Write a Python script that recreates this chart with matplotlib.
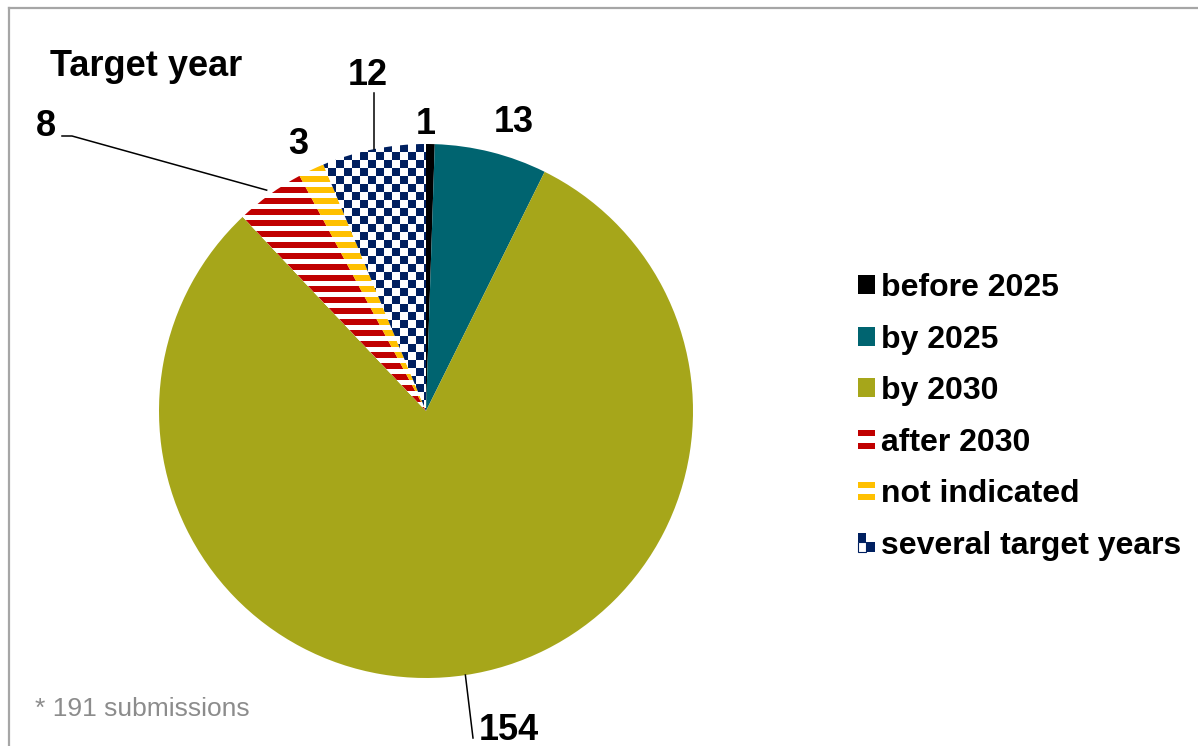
import numpy as np
import matplotlib
matplotlib.use('Agg')
import matplotlib.pyplot as plt
from matplotlib.patches import Rectangle
from matplotlib.lines import Line2D
from matplotlib.legend_handler import HandlerBase
from matplotlib.colors import to_rgb

# ---------------- data ----------------
categories = ['before 2025', 'by 2025', 'by 2030', 'after 2030',
              'not indicated', 'several target years']
counts = [1, 13, 154, 8, 3, 12]
value_labels = ['1', '13', '154', '8', '3', '12']
title = 'Target year'
footnote = '* 191 submissions'

# ---------------- style ----------------
colors = ['#000000', '#006470', '#A6A61A', '#C00000', '#FFC000', '#002060']
patterns = [None, None, None, 'stripes', 'stripes', 'checker']

W, H, DPI = 1198, 746, 100
CX, CY, R = 426, 411, 267  # pie centre / radius in pixels

plt.rcParams['font.family'] = ['Liberation Sans', 'DejaVu Sans']

fig = plt.figure(figsize=(W / DPI, H / DPI), dpi=DPI)
ax = fig.add_axes([0, 0, 1, 1])
xlim = (-CX / R, (W - CX) / R)
ylim = (-(H - CY) / R, CY / R)


def px(x, y):
    return ((x - CX) / R, (CY - y) / R)


face = [c if p is None else 'white' for c, p in zip(colors, patterns)]
wedges, _ = ax.pie(counts, colors=face, startangle=90, counterclock=False,
                   radius=1, wedgeprops=dict(linewidth=0))

# ---------- fill patterns clipped to wedges ----------
ii, jj = np.mgrid[0:H, 0:W]


def pattern_img(kind, color):
    rgb = np.array(to_rgb(color))
    if kind == 'stripes':
        mask = (ii % 11) < 6
    else:
        mask = ((ii // 8) + (jj // 8)) % 2 == 0
    img = np.ones((H, W, 3))
    img[mask] = rgb
    return img


for w, kind, col in zip(wedges, patterns, colors):
    if kind is None:
        continue
    im = ax.imshow(pattern_img(kind, col),
                   extent=(xlim[0], xlim[1], ylim[0], ylim[1]),
                   origin='upper', interpolation='none', zorder=1.5)
    im.set_clip_path(w)

ax.set_xlim(*xlim)
ax.set_ylim(*ylim)
ax.set_aspect('auto')
ax.axis('off')


# ---------- legend ----------
class PatternHandler(HandlerBase):
    def __init__(self, kind, color):
        super().__init__()
        self.kind = kind
        self.color = color

    def create_artists(self, legend, orig_handle, xdescent, ydescent,
                       width, height, fontsize, trans):
        x0, y0 = -xdescent, -ydescent
        arts = []
        if self.kind is None:
            arts.append(Rectangle((x0, y0), width, height, facecolor=self.color,
                                  edgecolor='none', transform=trans))
        elif self.kind == 'stripes':
            h3 = height / 3
            arts.append(Rectangle((x0, y0), width, height, facecolor='white',
                                  edgecolor='none', transform=trans))
            arts.append(Rectangle((x0, y0), width, h3, facecolor=self.color,
                                  edgecolor='none', transform=trans))
            arts.append(Rectangle((x0, y0 + 2 * h3), width, h3,
                                  facecolor=self.color, edgecolor='none',
                                  transform=trans))
        else:
            w2, h2 = width / 2, height / 2
            arts.append(Rectangle((x0, y0), w2, h2, facecolor='white',
                                  edgecolor=self.color, lw=0.8, transform=trans))
            arts.append(Rectangle((x0, y0 + h2), w2, h2, facecolor=self.color,
                                  edgecolor='none', transform=trans))
            arts.append(Rectangle((x0 + w2, y0), w2, h2, facecolor=self.color,
                                  edgecolor='none', transform=trans))
        return arts


hmap = {w: PatternHandler(k, c) for w, k, c in zip(wedges, patterns, colors)}
ax.legend(wedges, categories, handler_map=hmap, loc='upper left',
          bbox_to_anchor=(858 / W, 1 - 273 / H), bbox_transform=fig.transFigure,
          frameon=False, prop=dict(family='Liberation Sans', weight='bold', size=23),
          handlelength=0.53, handleheight=0.53, handletextpad=0.2,
          labelspacing=0.675, borderpad=0, borderaxespad=0)

# ---------- texts ----------
lab_font = dict(family='Liberation Sans', weight='bold', size=26, color='black')
ax.text(*px(50, 76), title, ha='left', va='baseline', **lab_font)

label_pos = [(426, 134), (514, 132), (509, 740), (45.5, 136), (298, 154), (367.5, 85)]
for txt, (x, y) in zip(value_labels, label_pos):
    ax.text(*px(x, y), txt, ha='center', va='baseline', **lab_font)


def edge_point(w, r=1.0):
    a = np.deg2rad((w.theta1 + w.theta2) / 2)
    return r * np.cos(a), r * np.sin(a)


# leader lines
e = edge_point(wedges[2])
p = px(473, 738)
ax.plot([e[0], p[0]], [e[1], p[1]], color='black', lw=1.1)
e = edge_point(wedges[5])
p = px(374, 93)
ax.plot([e[0], e[0]], [e[1], p[1]], color='black', lw=1.1)
e = edge_point(wedges[3], 1.02)
p1, p2 = px(72, 136), px(62, 136)
ax.plot([e[0], p1[0], p2[0]], [e[1], p1[1], p2[1]], color='black', lw=1.1)

ax.text(*px(35, 716), footnote, ha='left', va='baseline',
        family='Liberation Sans', size=19, color='#8C8C8C')

# ---------- frame ----------
fig.add_artist(Line2D([8.5 / W, 1], [1 - 7.5 / H] * 2, transform=fig.transFigure,
                      color='#A6A6A6', lw=1.6))
fig.add_artist(Line2D([8.5 / W] * 2, [0, 1 - 7.5 / H], transform=fig.transFigure,
                      color='#A6A6A6', lw=1.6))

fig.savefig('out.png', dpi=DPI)
